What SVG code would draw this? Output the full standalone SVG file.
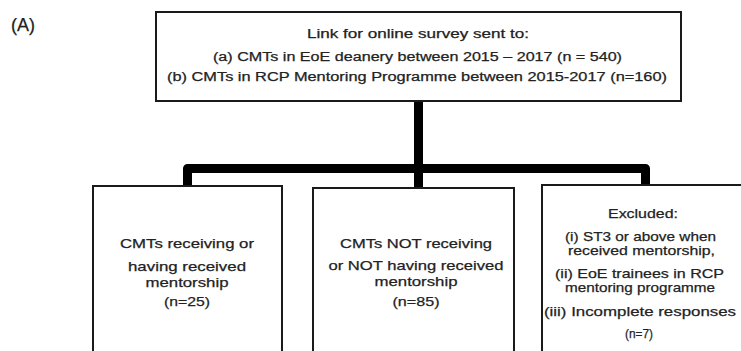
<svg xmlns="http://www.w3.org/2000/svg" width="741" height="351" viewBox="0 0 741 351">
<style>
.box{fill:#fff;stroke:#1a1a1a;stroke-width:2}
.t{font-family:"Liberation Sans",Arial,sans-serif;fill:#222;text-anchor:middle;stroke:#222;stroke-width:0.25}
.s12{font-size:12.5px}
.s13{font-size:13.5px}
.conn{fill:none;stroke:#000;stroke-width:9;stroke-linejoin:round}
</style>
<rect width="741" height="351" fill="#fff"/>
<text class="t" x="23" y="31" font-size="18" textLength="24" lengthAdjust="spacingAndGlyphs">(A)</text>
<g id="connectors">
<path class="conn" d="M418.5 100 V188"/>
<path class="conn" d="M187.5 187 V168.5 H645.5 V186"/>
</g>
<g id="survey">
<rect class="box" x="156" y="12" width="525" height="89"/>
<text class="t s12" x="418" y="38" textLength="222" lengthAdjust="spacingAndGlyphs">Link for online survey sent to:</text>
<text class="t s12" x="417.5" y="61" textLength="409" lengthAdjust="spacingAndGlyphs">(a) CMTs in EoE deanery between 2015 – 2017 (n = 540)</text>
<text class="t s12" x="417" y="81" textLength="500" lengthAdjust="spacingAndGlyphs">(b) CMTs in RCP Mentoring Programme between 2015-2017 (n=160)</text>
</g>
<g id="receiving">
<rect class="box" x="93" y="186" width="189" height="180"/>
<text class="t s13" x="187" y="248" textLength="134" lengthAdjust="spacingAndGlyphs">CMTs receiving or</text>
<text class="t s13" x="187" y="271" textLength="118" lengthAdjust="spacingAndGlyphs">having received</text>
<text class="t s13" x="187" y="287" textLength="83" lengthAdjust="spacingAndGlyphs">mentorship</text>
<text class="t s13" x="187" y="306" textLength="46" lengthAdjust="spacingAndGlyphs">(n=25)</text>
</g>
<g id="not-receiving">
<rect class="box" x="313" y="188" width="201" height="180"/>
<text class="t s13" x="416" y="248" textLength="152" lengthAdjust="spacingAndGlyphs">CMTs NOT receiving</text>
<text class="t s13" x="416" y="270" textLength="175" lengthAdjust="spacingAndGlyphs">or NOT having received</text>
<text class="t s13" x="416" y="286" textLength="83" lengthAdjust="spacingAndGlyphs">mentorship</text>
<text class="t s13" x="416" y="306" textLength="47" lengthAdjust="spacingAndGlyphs">(n=85)</text>
</g>
<g id="excluded">
<rect class="box" x="542" y="185" width="210" height="180"/>
<text class="t s13" x="643" y="218" textLength="70" lengthAdjust="spacingAndGlyphs">Excluded:</text>
<text class="t s13" x="640.5" y="241" textLength="151" lengthAdjust="spacingAndGlyphs">(i) ST3 or above when</text>
<text class="t s13" x="641.5" y="255" textLength="147" lengthAdjust="spacingAndGlyphs">received mentorship,</text>
<text class="t s13" x="639.5" y="278" textLength="169" lengthAdjust="spacingAndGlyphs">(ii) EoE trainees in RCP</text>
<text class="t s13" x="640" y="292" textLength="150" lengthAdjust="spacingAndGlyphs">mentoring programme</text>
<text class="t s13" x="640" y="316" textLength="192" lengthAdjust="spacingAndGlyphs">(iii) Incomplete responses</text>
<text class="t s13" x="639" y="338" textLength="28" lengthAdjust="spacingAndGlyphs">(n=7)</text>
</g>
</svg>
